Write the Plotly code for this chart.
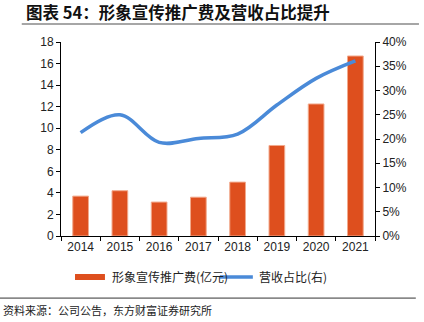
import plotly.graph_objects as go

years = ["2014", "2015", "2016", "2017", "2018", "2019", "2020", "2021"]
promo_fee = [3.7, 4.2, 3.15, 3.6, 5.0, 8.4, 12.25, 16.7]
revenue_share = [21.3, 25.0, 19.3, 20.1, 21.0, 27.0, 32.5, 36.1]
bar_name = "形象宣传推广费(亿元)"
line_name = "营收占比(右)"

bar_color = "#DE4F1E"
line_color = "#4A8AD8"

fig = go.Figure()
fig.add_trace(go.Bar(
    x=years, y=promo_fee, name=bar_name,
    marker=dict(color=bar_color, line=dict(color="#F2A98C", width=1)),
    width=0.4,
))
fig.add_trace(go.Scatter(
    x=years, y=revenue_share, name=line_name, yaxis="y2",
    mode="lines", line=dict(color=line_color, width=3.5, shape="spline", smoothing=1.0),
))

font_cjk = "Noto Sans CJK SC"
fig.update_layout(
    width=424, height=322,
    margin=dict(l=61, r=49, t=42, b=86),
    paper_bgcolor="white", plot_bgcolor="white",
    font=dict(family="Liberation Sans, Arial", size=12, color="#222"),
    showlegend=False,
    xaxis=dict(type="category", showline=True, linecolor="black", linewidth=1,
               ticks="outside", tickson="boundaries", ticklen=4, tickcolor="black",
               tickfont=dict(size=12), showgrid=False),
    yaxis=dict(range=[0, 18], dtick=2, showline=True, linecolor="black", linewidth=1,
               ticks="outside", ticklen=4, tickcolor="black", showgrid=False,
               zeroline=False, tickfont=dict(size=12)),
    yaxis2=dict(range=[0, 40], dtick=5, overlaying="y", side="right", showline=True,
                linecolor="black", linewidth=1, ticks="outside", ticklen=4,
                tickcolor="black", showgrid=False, zeroline=False, ticksuffix="%",
                tickfont=dict(size=12)),
)

# title and source
fig.add_annotation(text="<b>图表 54：形象宣传推广费及营收占比提升</b>", xref="paper", yref="paper",
                   x=-0.118, y=1.0, xanchor="left", yanchor="bottom", yshift=16,
                   showarrow=False, font=dict(family=font_cjk, size=16.5, color="#111"))
fig.add_annotation(text="资料来源：公司公告，东方财富证券研究所", xref="paper", yref="paper",
                   x=-0.19, y=0, xanchor="left", yanchor="top", yshift=-64,
                   showarrow=False, font=dict(family=font_cjk, size=11, color="#222"))
fig.add_shape(type="line", xref="paper", yref="paper", x0=-0.125, x1=1.14,
              y0=1.093, y1=1.093, line=dict(color="#888", width=1.5))
fig.add_shape(type="line", xref="paper", yref="paper", x0=-0.2, x1=1.13,
              y0=-0.32, y1=-0.32, line=dict(color="#333", width=1))

# legend
fig.add_shape(type="rect", xref="paper", yref="paper", x0=0.0446, x1=0.140,
              y0=-0.2268, y1=-0.196, line=dict(width=0), fillcolor=bar_color)
fig.add_annotation(text=bar_name, xref="paper", yref="paper", x=0.156, y=-0.211,
                   xanchor="left", yanchor="middle", showarrow=False,
                   font=dict(family=font_cjk, size=12, color="#222"))
fig.add_shape(type="line", xref="paper", yref="paper", x0=0.506, x1=0.611,
              y0=-0.211, y1=-0.211, line=dict(color=line_color, width=3.5))
fig.add_annotation(text=line_name, xref="paper", yref="paper", x=0.624, y=-0.211,
                   xanchor="left", yanchor="middle", showarrow=False,
                   font=dict(family=font_cjk, size=12, color="#222"))

fig.write_html("out.html")
